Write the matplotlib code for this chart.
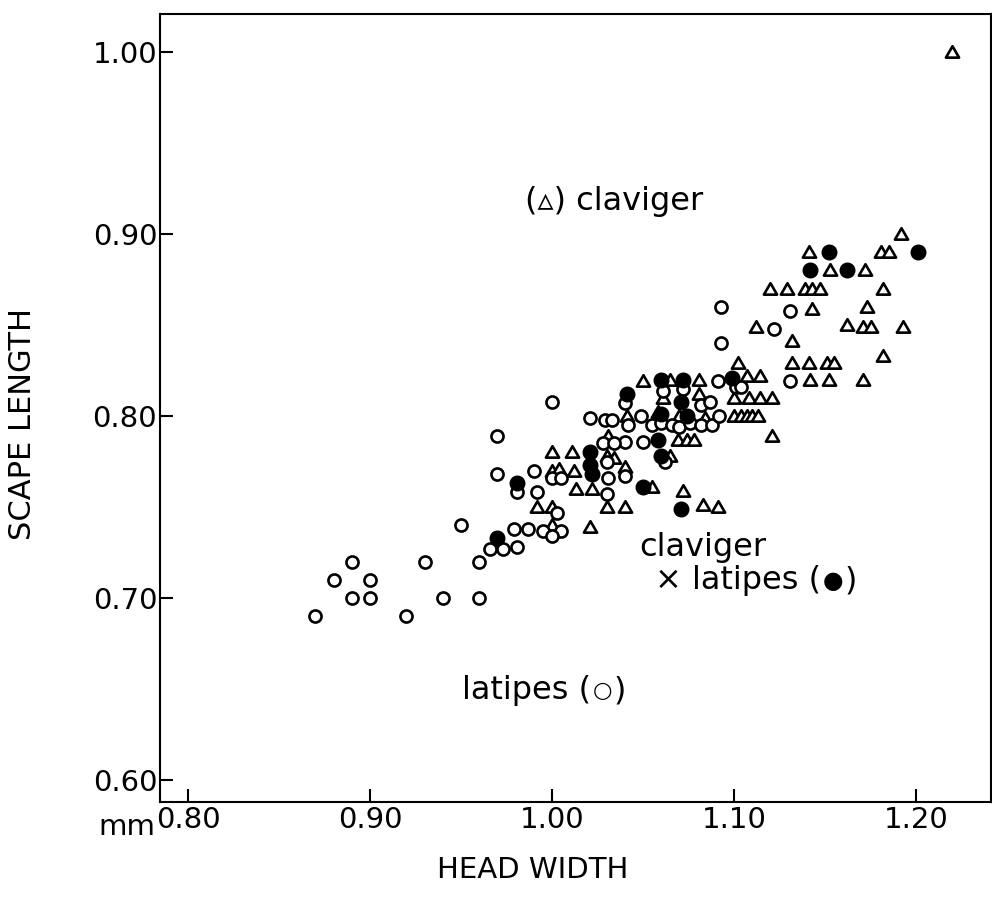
import matplotlib
matplotlib.use("Agg")
import matplotlib.pyplot as plt
from matplotlib.path import Path
from matplotlib.offsetbox import TextArea, HPacker, AnnotationBbox

# ---------------- data (head width, scape length in mm) ----------------
latipes_x = [0.87, 0.88, 0.89, 0.89, 0.90, 0.90, 0.92, 0.93, 0.94, 0.95,
             0.96, 0.96, 0.966, 0.973, 0.981, 0.979, 0.987, 0.995, 1.005, 1.00,
             0.97, 0.97, 0.981, 0.992, 0.99, 1.00, 1.005, 1.003, 1.00, 1.021,
             1.029, 1.033, 1.042, 1.049, 1.04, 1.04, 1.028, 1.034, 1.03, 1.031,
             1.03, 1.04, 1.05, 1.055, 1.06, 1.066, 1.07, 1.076, 1.082, 1.088,
             1.061, 1.072, 1.082, 1.087, 1.062, 1.092, 1.091, 1.101, 1.104, 1.093,
             1.093, 1.122, 1.131, 1.131]
latipes_y = [0.69, 0.71, 0.72, 0.70, 0.71, 0.70, 0.69, 0.72, 0.70, 0.74,
             0.72, 0.70, 0.727, 0.727, 0.728, 0.738, 0.738, 0.737, 0.737, 0.734,
             0.768, 0.789, 0.758, 0.758, 0.77, 0.766, 0.766, 0.747, 0.808, 0.799,
             0.798, 0.798, 0.795, 0.80, 0.807, 0.786, 0.785, 0.785, 0.775, 0.766,
             0.757, 0.767, 0.786, 0.795, 0.796, 0.795, 0.794, 0.796, 0.795, 0.795,
             0.814, 0.815, 0.806, 0.808, 0.775, 0.80, 0.819, 0.816, 0.816, 0.84,
             0.86, 0.848, 0.858, 0.819]

claviger_x = [1.00, 1.021, 0.992, 1.00, 1.00, 1.011, 1.00, 1.004, 1.012, 1.013,
              1.022, 1.03, 1.034, 1.031, 1.03, 1.04, 1.04, 1.041, 1.055, 1.05,
              1.065, 1.081, 1.061, 1.081, 1.058, 1.07, 1.084, 1.069, 1.074, 1.078,
              1.065, 1.072, 1.083, 1.091, 1.102, 1.107, 1.114, 1.10, 1.108, 1.114,
              1.121, 1.10, 1.104, 1.107, 1.11, 1.113, 1.121, 1.132, 1.132, 1.141,
              1.151, 1.155, 1.142, 1.152, 1.171, 1.182, 1.112, 1.143, 1.12, 1.129,
              1.139, 1.143, 1.147, 1.182, 1.173, 1.162, 1.171, 1.175, 1.193, 1.141,
              1.153, 1.172, 1.181, 1.185, 1.192, 1.22]
claviger_y = [0.74, 0.739, 0.75, 0.75, 0.78, 0.78, 0.77, 0.771, 0.77, 0.76,
              0.76, 0.778, 0.777, 0.789, 0.75, 0.75, 0.772, 0.80, 0.761, 0.819,
              0.82, 0.82, 0.81, 0.812, 0.802, 0.80, 0.799, 0.787, 0.787, 0.787,
              0.778, 0.759, 0.751, 0.75, 0.829, 0.822, 0.822, 0.81, 0.81, 0.81,
              0.81, 0.80, 0.80, 0.80, 0.80, 0.80, 0.789, 0.841, 0.829, 0.829,
              0.829, 0.829, 0.82, 0.82, 0.82, 0.833, 0.849, 0.859, 0.87, 0.87,
              0.87, 0.87, 0.87, 0.87, 0.86, 0.85, 0.849, 0.849, 0.849, 0.89,
              0.88, 0.88, 0.89, 0.89, 0.90, 1.00]

hybrid_x = [0.97, 0.981, 1.021, 1.021, 1.022, 1.041, 1.05, 1.06, 1.072, 1.071,
            1.06, 1.074, 1.058, 1.06, 1.071, 1.099, 1.142, 1.152, 1.162, 1.201]
hybrid_y = [0.733, 0.763, 0.78, 0.773, 0.768, 0.812, 0.761, 0.82, 0.82, 0.808,
            0.801, 0.80, 0.787, 0.778, 0.749, 0.821, 0.88, 0.89, 0.88, 0.89]

x_ticks = [0.80, 0.90, 1.00, 1.10, 1.20]
y_ticks = [0.60, 0.70, 0.80, 0.90, 1.00]

# ---------------- figure ----------------
plt.rcParams['font.family'] = ['DejaVu Sans']
fig = plt.figure(figsize=(9.92, 9.08), dpi=100)
ax = fig.add_axes([0.1613, 0.1167, 0.8377, 0.8678])

tri = Path([(-1.0, -0.78), (1.0, -0.78), (0.0, 0.95), (-1.0, -0.78)],
           [Path.MOVETO, Path.LINETO, Path.LINETO, Path.CLOSEPOLY])

ax.plot(claviger_x, claviger_y, linestyle='none', marker=tri, markersize=9.5,
        markerfacecolor='white', markeredgecolor='black', markeredgewidth=1.9, zorder=3)
ax.plot(latipes_x, latipes_y, linestyle='none', marker='o', markersize=8.7,
        markerfacecolor='white', markeredgecolor='black', markeredgewidth=1.9, zorder=4)
ax.plot(hybrid_x, hybrid_y, linestyle='none', marker='o', markersize=10.5,
        markerfacecolor='black', markeredgecolor='black', markeredgewidth=1.0, zorder=5)

ax.set_xlim(0.7846, 1.2412)
ax.set_ylim(0.5879, 1.0209)
ax.set_xticks(x_ticks)
ax.set_yticks(y_ticks)
ax.set_xticklabels([f"{v:.2f}" for v in x_ticks])
ax.set_yticklabels([f"{v:.2f}" for v in y_ticks])
ax.tick_params(direction='in', length=9.5, width=1.5, labelsize=21, pad=3)
ax.tick_params(axis='y', pad=2)
for s in ax.spines.values():
    s.set_linewidth(1.5)


def label(parts, x, y):
    """parts: list of (text, fontsize); pieces are vertically centred on each other"""
    boxes = [TextArea(t, textprops=dict(fontsize=fs, color='black')) for t, fs in parts]
    pack = HPacker(children=boxes, align='center', pad=0, sep=1)
    ab = AnnotationBbox(pack, (x, y), xycoords='data', frameon=False,
                        box_alignment=(0, 0.5), pad=0, zorder=6)
    ax.add_artist(ab)


FS = 23
label([("(\u25b5) claviger", FS)], 0.985, 0.918)
label([("claviger", FS)], 1.048, 0.7276)
label([("\u00d7 latipes (", FS), ("\u25cf", 17), (")", FS)], 1.0566, 0.7094)
label([("latipes (", FS), ("\u25cb", 16), (")", FS)], 0.9505, 0.649)

fig.text(0.023, 0.533, "SCAPE LENGTH", rotation=90, ha='center', va='center', fontsize=22)
fig.text(0.537, 0.042, "HEAD WIDTH", ha='center', va='center', fontsize=21)
fig.text(155 / 992, 0.080, "mm", ha='right', va='baseline', fontsize=21)

fig.savefig("out.png", dpi=100)
